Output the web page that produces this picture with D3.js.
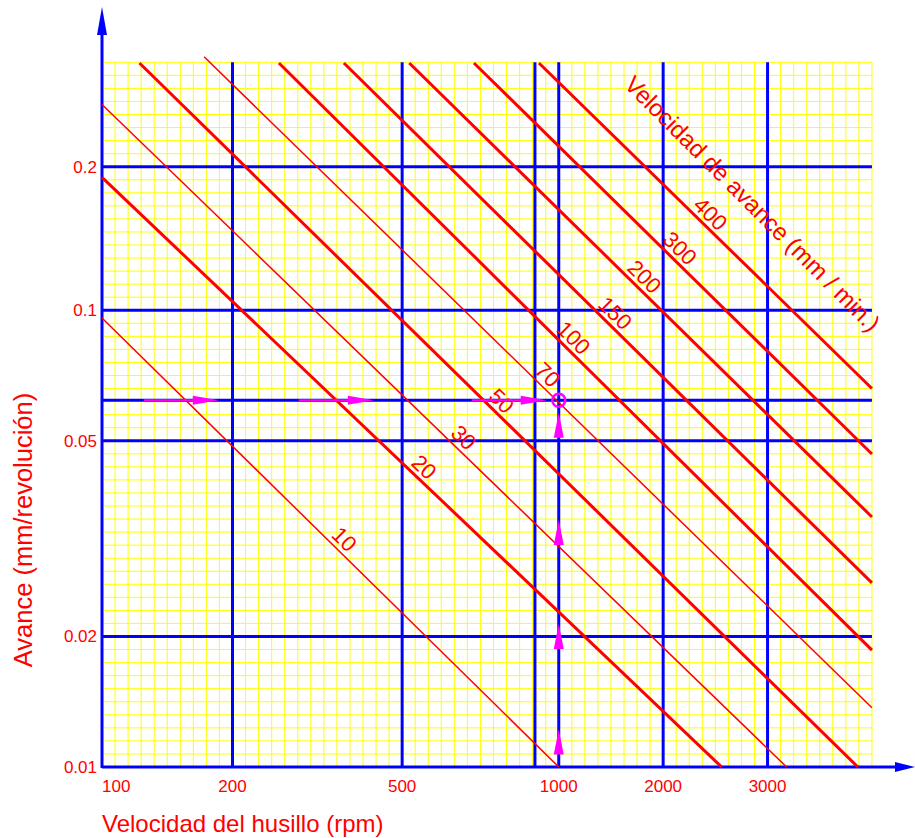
<!DOCTYPE html>
<html>
<head>
<meta charset="utf-8">
<script src="https://cdn.jsdelivr.net/npm/d3@7/dist/d3.min.js"></script>
<style>
    body { margin: 0; background: #ffffff; }
    text { font-family: Arial, "Liberation Sans", Helvetica, sans-serif; fill: #ff0000; }
</style>
</head>
<body>
<div id="chart"></div>
<script>
// spindle speed (rpm) and feed (mm/rev) ticks
const rpmTicks = [100, 200, 500, 1000, 2000, 3000];
const rpmGrid = [200, 500, 900, 1000, 2000, 3000];
const feedTicks = [0.01, 0.02, 0.05, 0.1, 0.2];
const feedLabels = ["0.01", "0.02", "0.05", "0.1", "0.2"];

const speedValues = [10, 20, 30, 50, 70, 100, 150, 200, 300, 400];
const startRpm = [100, 100, 100, 122, 172, 257, 365, 516, 687, 916];
const startFeed = [0.096, 0.19, 0.27, 0.33, 0.34, 0.33, 0.33, 0.33, 0.33, 0.33];
const endRpm = [1000, 2510, 3230, 4260, 4500, 4500, 4500, 4500, 4500, 4500];
const endFeed = [0.01, 0.01, 0.01, 0.01, 0.0137, 0.0186, 0.0257, 0.035, 0.047, 0.066];
const labelRpm = [365, 550, 655, 775, 950, 1100, 1450, 1760, 2130, 2400];

// worked example: 1000 rpm at 0.062 mm/rev
const exampleRpm = 1000;
const exampleFeed = 0.062;
const arrowRpm = [186, 429, 948];
const arrowFeed = [0.0122, 0.0212, 0.0345, 0.058];

const width = 915, height = 838;
const plotLeft = 102, plotBottom = 767, cell = 13.05;
const cols = 59, rows = 54;
const plotRight = plotLeft + cols * cell;
const plotTop = plotBottom - rows * cell;

// the chart is drawn on graph paper: decades are not even, so the scales are piecewise
const x = d3.scaleLog()
    .domain(rpmTicks)
    .range([0, 10, 23, 35, 43, 51].map(c => plotLeft + c * cell));
const y = d3.scaleLog()
    .domain(feedTicks)
    .range([0, 10, 25, 35, 46].map(c => plotBottom - c * cell));

const gx = d3.scaleLinear().domain([0, cols]).range([plotLeft, plotRight]);
const gy = d3.scaleLinear().domain([0, rows]).range([plotBottom, plotTop]);

const svg = d3.select("#chart").append("svg")
    .attr("width", width)
    .attr("height", height);

// yellow graph paper
const paper = svg.append("g").attr("stroke", "#ffff00").attr("stroke-width", 1);
paper.selectAll(".vcell")
    .data(d3.range(0, cols + 1))
    .enter().append("line")
    .attr("x1", d => gx(d)).attr("x2", d => gx(d))
    .attr("y1", plotTop).attr("y2", plotBottom);
paper.selectAll(".hcell")
    .data(d3.range(0, rows + 1))
    .enter().append("line")
    .attr("x1", plotLeft).attr("x2", plotRight)
    .attr("y1", d => gy(d)).attr("y2", d => gy(d));

const magenta = "#ff00ff";
const blue = "#0000ff";

// blue grid
svg.append("g").selectAll("line")
    .data(rpmGrid)
    .enter().append("line")
    .attr("x1", d => x(d)).attr("x2", d => x(d))
    .attr("y1", plotTop).attr("y2", plotBottom)
    .attr("stroke", blue).attr("stroke-width", 3);
svg.append("g").selectAll("line")
    .data(feedTicks.slice(1).concat([exampleFeed]))
    .enter().append("line")
    .attr("x1", plotLeft).attr("x2", plotRight)
    .attr("y1", d => y(d)).attr("y2", d => y(d))
    .attr("stroke", blue).attr("stroke-width", 3);

// axes with arrows
svg.append("line")
    .attr("x1", plotLeft).attr("x2", 897)
    .attr("y1", plotBottom).attr("y2", plotBottom)
    .attr("stroke", blue).attr("stroke-width", 3);
svg.append("path")
    .attr("d", `M915,${plotBottom} L895,${plotBottom - 5} L895,${plotBottom + 5} Z`)
    .attr("fill", blue);
svg.append("line")
    .attr("x1", plotLeft).attr("x2", plotLeft)
    .attr("y1", plotBottom + 1).attr("y2", 30)
    .attr("stroke", blue).attr("stroke-width", 3);
svg.append("path")
    .attr("d", `M${plotLeft},7 L${plotLeft - 5},35 L${plotLeft + 5},35 Z`)
    .attr("fill", blue);

// feed-rate lines
const thin = [10, 30, 70];
const lineData = speedValues.map((v, i) => ({
    v: v,
    x1: x(startRpm[i]), y1: y(startFeed[i]),
    x2: x(endRpm[i]), y2: y(endFeed[i]),
    lx: x(labelRpm[i])
}));

svg.append("g").selectAll("line")
    .data(lineData)
    .enter().append("line")
    .attr("x1", d => d.x1).attr("y1", d => d.y1)
    .attr("x2", d => d.x2).attr("y2", d => d.y2)
    .attr("stroke", "#ff0000")
    .attr("stroke-width", d => thin.includes(d.v) ? 1.5 : 3);

// labels sitting on each line (anchor moved back so the text centre is at labelRpm)
svg.append("g").selectAll("text")
    .data(lineData)
    .enter().append("text")
    .attr("transform", d => {
        const px = d.lx - 8;
        const t = (px - d.x1) / (d.x2 - d.x1);
        const py = d.y1 + t * (d.y2 - d.y1);
        const ang = Math.atan2(d.y2 - d.y1, d.x2 - d.x1) * 180 / Math.PI;
        return `translate(${px},${py}) rotate(${ang})`;
    })
    .attr("y", -12)
    .attr("dominant-baseline", "central")
    .attr("text-anchor", "middle")
    .style("font-size", "22px")
    .text(d => d.v);

// example path: horizontal arrows at the feed, vertical arrows at the speed
const ey = y(exampleFeed), ex = x(exampleRpm);
svg.append("g").selectAll("line")
    .data(arrowRpm)
    .enter().append("line")
    .attr("x1", d => x(d) - 75).attr("x2", d => x(d) - 20)
    .attr("y1", ey).attr("y2", ey)
    .attr("stroke", magenta).attr("stroke-width", 2);
svg.append("g").selectAll("path")
    .data(arrowRpm)
    .enter().append("path")
    .attr("d", d => `M${x(d)},${ey} L${x(d) - 26},${ey - 4.5} L${x(d) - 26},${ey + 4.5} Z`)
    .attr("fill", magenta);
svg.append("g").selectAll("path")
    .data(arrowFeed)
    .enter().append("path")
    .attr("d", d => `M${ex},${y(d)} L${ex - 5},${y(d) + 25} L${ex + 5},${y(d) + 25} Z`)
    .attr("fill", magenta);
svg.append("circle")
    .attr("cx", ex).attr("cy", ey).attr("r", 6.5)
    .attr("fill", "none")
    .attr("stroke", magenta).attr("stroke-width", 2.5);

// tick labels
svg.append("g").selectAll("text")
    .data(rpmTicks)
    .enter().append("text")
    .attr("x", (d, i) => i === 0 ? plotLeft : x(d))
    .attr("y", 792)
    .attr("text-anchor", (d, i) => i === 0 ? "start" : "middle")
    .style("font-size", "17px")
    .text(d => d);
svg.append("g").selectAll("text")
    .data(feedTicks)
    .enter().append("text")
    .attr("x", 97)
    .attr("y", d => y(d))
    .attr("dy", "0.35em")
    .attr("text-anchor", "end")
    .style("font-size", "17px")
    .text((d, i) => feedLabels[i]);

// titles
svg.append("text")
    .attr("x", plotLeft)
    .attr("y", 832)
    .style("font-size", "24px")
    .text("Velocidad del husillo (rpm)");
svg.append("text")
    .attr("transform", `translate(32,530) rotate(-90)`)
    .attr("text-anchor", "middle")
    .style("font-size", "25.5px")
    .text("Avance (mm/revolución)");
svg.append("text")
    .attr("transform", `translate(623,86) rotate(45)`)
    .style("font-size", "24px")
    .text("Velocidad de avance (mm / min.)");
</script>
</body>
</html>
